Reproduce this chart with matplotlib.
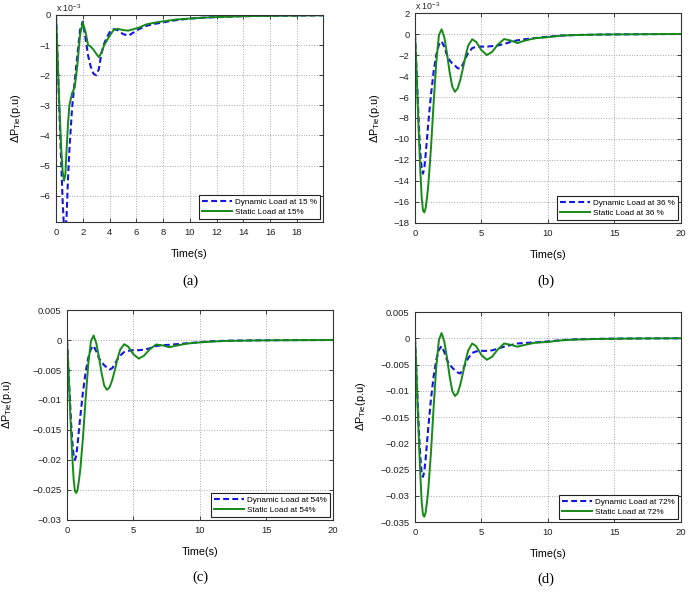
import matplotlib
matplotlib.use('Agg')
import matplotlib.pyplot as plt
from matplotlib.ticker import FuncFormatter

plt.rcParams['font.family'] = ['Liberation Sans', 'DejaVu Sans']
plt.rcParams['mathtext.fontset'] = 'custom'
plt.rcParams['mathtext.rm'] = 'Liberation Sans'
plt.rcParams['mathtext.it'] = 'Liberation Sans:italic'

# time grid (s)
t = [0, .1, .2, .3, .4, .5, .6, .7, .8, .9, 1.0, 1.2, 1.4, 1.6, 1.8, 2.0, 2.2, 2.4,
     2.6, 2.8, 3.0, 3.2, 3.4, 3.6, 3.8, 4.0, 4.3, 4.6, 5.0, 5.4, 5.8, 6.2, 6.7, 7.2,
     7.7, 8.2, 9, 10, 11, 12, 14, 16, 18, 20]

# (a) 15 %  (x 1e-3)
dyn_a = [0, -1.2, -2.5, -3.8, -5.0, -6.2, -7.1, -7.3, -6.6, -5.4, -4.5, -3.1, -2.2, -1.33,
         -0.5, -0.22, -0.75, -1.35, -1.72, -1.95, -2.0, -1.8, -1.27, -0.95, -0.75, -0.58,
         -0.47, -0.5, -0.63, -0.69, -0.58, -0.47, -0.37, -0.31, -0.27, -0.23, -0.17, -0.12,
         -0.09, -0.07, -0.04, -0.03, -0.02, -0.01]
sta_a = [0, -1.2, -2.4, -3.5, -4.5, -5.2, -5.5, -5.3, -4.4, -3.6, -3.0, -2.6, -2.4, -1.66,
         -0.66, -0.25, -0.55, -1.0, -1.05, -1.15, -1.28, -1.4, -1.25, -1.0, -0.85, -0.7,
         -0.5, -0.46, -0.5, -0.52, -0.47, -0.42, -0.32, -0.27, -0.23, -0.2, -0.15, -0.12,
         -0.09, -0.07, -0.04, -0.03, -0.02, -0.01]

# (b) 36 %  (x 1e-3)
dyn_b = [0, -3, -6, -9, -11.3, -12.8, -13.3, -12.8, -11.5, -10, -8.5, -5.8, -3.6, -2.0,
         -1.0, -0.7, -1.2, -2.0, -2.5, -2.8, -3.0, -3.25, -3.3, -2.9, -2.3, -1.8, -1.35,
         -1.2, -1.2, -1.2, -1.15, -1.1, -0.95, -0.75, -0.6, -0.5, -0.4, -0.25, -0.15, -0.1,
         -0.05, -0.03, -0.01, 0]
sta_b = [0, -3, -6.5, -10, -13, -15.5, -16.8, -17.0, -16.6, -15.6, -14.4, -10.9, -6.6, -2.7,
         -0.1, 0.45, -0.3, -1.8, -3.6, -5.0, -5.5, -5.2, -4.4, -3.3, -2.1, -1.1, -0.5, -0.75,
         -1.55, -2.0, -1.7, -1.05, -0.48, -0.62, -0.86, -0.65, -0.4, -0.3, -0.15, -0.1,
         -0.05, -0.03, -0.01, 0]

# (c) 54 %
dyn_c = [0, -4.5, -9, -13.5, -17, -19.3, -20, -19.2, -17.3, -15, -12.8, -8.7, -5.4, -3.0,
         -1.5, -0.95, -1.9, -3.0, -3.7, -4.2, -4.6, -4.9, -4.7, -4.0, -3.2, -2.6, -2.0,
         -1.8, -1.7, -1.7, -1.6, -1.4, -1.0, -0.85, -0.8, -0.7, -0.55, -0.35, -0.2, -0.12,
         -0.06, -0.03, -0.01, 0]
sta_c = [0, -4.5, -9.7, -15, -19.5, -23.2, -25.2, -25.5, -24.9, -23.4, -21.6, -16.3, -9.9,
         -4.0, -0.2, 0.75, -0.5, -2.8, -5.5, -7.6, -8.3, -7.9, -6.7, -5.0, -3.1, -1.6, -0.7,
         -1.1, -2.4, -3.1, -2.6, -1.6, -0.75, -0.9, -1.2, -0.95, -0.6, -0.4, -0.25, -0.15,
         -0.08, -0.04, -0.02, 0]

# (d) 72 %
dyn_d = [0, -6, -12, -18, -22.5, -25.8, -26.4, -25.4, -23, -20, -17, -11.6, -7.3, -4.1,
         -2.2, -1.5, -2.6, -4.1, -5.0, -5.6, -6.1, -6.5, -6.7, -6.0, -4.8, -3.8, -2.8, -2.5,
         -2.4, -2.4, -2.3, -2.0, -1.6, -1.3, -1.0, -0.9, -0.8, -0.6, -0.35, -0.2, -0.1,
         -0.05, -0.02, 0]
sta_d = [0, -6, -13, -20, -26, -31, -33.6, -34, -33.2, -31.2, -28.8, -21.8, -13.2, -5.4,
         -0.3, 1.0, -0.6, -3.6, -7.2, -10.0, -11.0, -10.5, -8.9, -6.7, -4.3, -2.3, -1.0,
         -1.5, -3.2, -4.1, -3.5, -2.2, -1.0, -1.25, -1.6, -1.3, -0.85, -0.7, -0.4, -0.25,
         -0.12, -0.06, -0.02, 0]

blue = '#1414e6'
green = '#168a16'

fig = plt.figure(figsize=(6.92, 5.94), dpi=100)


def fmt(v, pos):
    s = '%g' % v
    if s == '-0':
        s = '0'
    return s.replace('-', '\u2212')


def panel(rect, dyn, sta, scale, pct_dyn, pct_sta, xlim, xticks, ylim, yticks,
          ylab_x, ylab_y, caption, cap_xy, mult=False):
    ax = fig.add_axes(rect)
    ax.plot(t, [v * scale for v in dyn], color=blue, lw=1.5, linestyle=(0, (2.8, 1.6)),
            label='Dynamic Load at ' + pct_dyn)
    ax.plot(t, [v * scale for v in sta], color=green, lw=1.4,
            label='Static Load at ' + pct_sta)
    ax.set_xlim(*xlim)
    ax.set_ylim(*ylim)
    ax.set_xticks(xticks)
    ax.set_yticks(yticks)
    ax.yaxis.set_major_formatter(FuncFormatter(fmt))
    ax.tick_params(direction='in', length=3, width=0.6, labelsize=6.8, top=True,
                   right=True, pad=4, colors='#222222')
    for sp in ax.spines.values():
        sp.set_linewidth(0.8)
        sp.set_color('#333333')
    ax.grid(True, linestyle=':', linewidth=0.7, color='#a8a8a8')
    ax.set_xlabel('Time(s)', fontsize=7.8, labelpad=9)
    ax.set_ylabel(r'$\Delta$P$_{\rm Tie}$(p.u)', fontsize=7.8)
    ax.yaxis.set_label_coords(ylab_x, ylab_y)
    leg = ax.legend(loc='lower right', fontsize=5.9, handlelength=3.6, borderaxespad=0.35,
                    fancybox=False, framealpha=1, borderpad=0.4, labelspacing=0.3,
                    handletextpad=0.4)
    leg.get_frame().set_edgecolor('#222222')
    leg.get_frame().set_linewidth(0.8)
    if mult:
        ax.text(0.0, 1.004, r'x 10$^{-3}$', transform=ax.transAxes, fontsize=6.3,
                ha='left', va='bottom', color='#222222')
    fig.text(cap_xy[0], cap_xy[1], caption, family=['Liberation Serif', 'DejaVu Serif'],
             fontsize=10.5, ha='center', va='center')
    return ax


panel([0.0809, 0.6263, 0.3858, 0.3485], dyn_a, sta_a, 1, '15 %', '15%',
      (0, 19.95), range(0, 19, 2), (-6.87, 0), range(-6, 1),
      -0.125, 0.5, '(a)', (190 / 692, 1 - 281 / 594), mult=True)
panel([0.5997, 0.6246, 0.3844, 0.3535], dyn_b, sta_b, 1, '36 %', '36 %',
      (0, 20), range(0, 21, 5), (-18, 2), range(-18, 3, 2),
      -0.125, 0.5, '(b)', (546 / 692, 1 - 281 / 594), mult=True)
panel([0.0968, 0.1246, 0.3844, 0.3535], dyn_c, sta_c, 1e-3, '54%', '54%',
      (0, 20), range(0, 21, 5), (-0.03, 0.005), [-0.03, -0.025, -0.02, -0.015, -0.01, -0.005, 0, 0.005],
      -0.2, 0.55, '(c)', (200 / 692, 1 - 577 / 594))
panel([0.5997, 0.1212, 0.3844, 0.3535], dyn_d, sta_d, 1e-3, '72%', '72%',
      (0, 20), range(0, 21, 5), (-0.035, 0.005),
      [-0.035, -0.03, -0.025, -0.02, -0.015, -0.01, -0.005, 0, 0.005],
      -0.175, 0.55, '(d)', (546 / 692, 1 - 579 / 594))

fig.savefig('out.png', dpi=100)
